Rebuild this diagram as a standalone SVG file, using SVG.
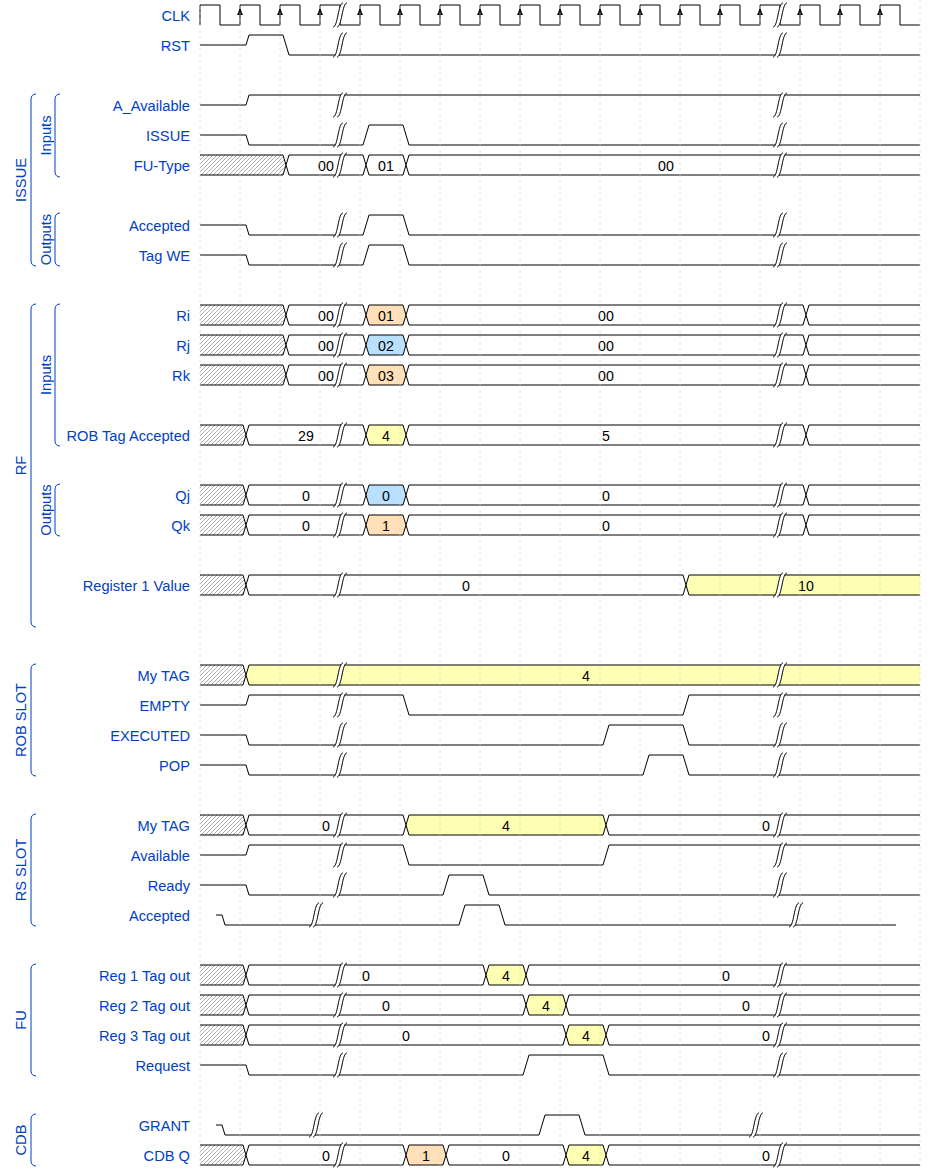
<svg xmlns="http://www.w3.org/2000/svg" xmlns:xlink="http://www.w3.org/1999/xlink" width="940" height="1170" viewBox="0 0 940 1170">
<style>
.w{fill:none;stroke:#000;stroke-width:1}
.d{fill:#fff;stroke:#000;stroke-width:1}
.y{fill:#ffffb4;stroke:#000;stroke-width:1}
.o{fill:#ffe0b9;stroke:#000;stroke-width:1}
.b{fill:#b9e0ff;stroke:#000;stroke-width:1}
.h{fill:url(#hatch);stroke:#000;stroke-width:1}
.n{font-family:"Liberation Sans",Arial,sans-serif;font-size:14.67px;fill:#0041c4;text-anchor:end}
.t{font-family:"Liberation Sans",Arial,sans-serif;font-size:14.2px;fill:#000;text-anchor:middle}
.g{font-family:"Liberation Sans",Arial,sans-serif;font-size:14.67px;fill:#0041c4;text-anchor:middle}
.br{fill:none;stroke:#0041c4;stroke-width:1}
.grid{stroke:#d0d0d0;stroke-width:1;stroke-dasharray:3,3}
</style>
<defs>
<pattern id="hatch" patternUnits="userSpaceOnUse" width="4" height="4">
<rect width="4" height="4" fill="#fff"/>
<path d="M-1,1 L1,-1 M0,4 L4,0 M3,5 L5,3" stroke="#888" stroke-width="0.7"/>
</pattern>
<g id="gap">
<path d="M3,-2 H7 C2,-2 2,22 -3,22 H-7 C-2,22 -2,-2 3,-2 Z" fill="#fff"/>
<path d="M-7,22 C-2,22 -2,-2 3,-2 M-3,22 C2,22 2,-2 7,-2" fill="none" stroke="#000" stroke-width="1"/>
</g>
<path id="arr" d="M0,0 L-3,7 L3,7 Z" fill="#000"/>
</defs>
<rect width="940" height="1170" fill="#fff"/>

<g id="groups">
<g id="grp-issue">
<path class="br" d="M36,94 c-3,0 -5,2 -5,5 V261 c0,3 2,5 5,5"/>
<text class="g" transform="translate(26,180) rotate(-90)">ISSUE</text>
<path class="br" d="M60,94 c-3,0 -5,2 -5,5 V172 c0,3 2,5 5,5"/>
<text class="g" transform="translate(50.5,135.5) rotate(-90)">Inputs</text>
<path class="br" d="M60,213 c-3,0 -5,2 -5,5 V261 c0,3 2,5 5,5"/>
<text class="g" transform="translate(50.5,239.5) rotate(-90)">Outputs</text>
</g>
<g id="grp-rf">
<path class="br" d="M36,304 c-3,0 -5,2 -5,5 V622 c0,3 2,5 5,5"/>
<text class="g" transform="translate(26,465.5) rotate(-90)">RF</text>
<path class="br" d="M60,304 c-3,0 -5,2 -5,5 V441 c0,3 2,5 5,5"/>
<text class="g" transform="translate(50.5,375) rotate(-90)">Inputs</text>
<path class="br" d="M60,484 c-3,0 -5,2 -5,5 V531 c0,3 2,5 5,5"/>
<text class="g" transform="translate(50.5,510) rotate(-90)">Outputs</text>
</g>
<g id="grp-rob">
<path class="br" d="M36,664 c-3,0 -5,2 -5,5 V771 c0,3 2,5 5,5"/>
<text class="g" transform="translate(26,720) rotate(-90)">ROB SLOT</text>
</g>
<g id="grp-rs">
<path class="br" d="M36,814 c-3,0 -5,2 -5,5 V921 c0,3 2,5 5,5"/>
<text class="g" transform="translate(26,870) rotate(-90)">RS SLOT</text>
</g>
<g id="grp-fu">
<path class="br" d="M36,964 c-3,0 -5,2 -5,5 V1071 c0,3 2,5 5,5"/>
<text class="g" transform="translate(26,1020) rotate(-90)">FU</text>
</g>
<g id="grp-cdb">
<path class="br" d="M36,1114 c-3,0 -5,2 -5,5 V1161 c0,3 2,5 5,5"/>
<text class="g" transform="translate(26,1140) rotate(-90)">CDB</text>
</g>
</g>

<g id="sig-clk">
<text class="n" x="190" y="20.5">CLK</text>
<path class="w" d="M200,25 V5 H220 V25 H240 V5 H260 V25 H280 V5 H300 V25 H320 V5 H340 V25 H360 V5 H380 V25 H400 V5 H420 V25 H440 V5 H460 V25 H480 V5 H500 V25 H520 V5 H540 V25 H560 V5 H580 V25 H600 V5 H620 V25 H640 V5 H660 V25 H680 V5 H700 V25 H720 V5 H740 V25 H760 V5 H780 V25 H800 V5 H820 V25 H840 V5 H860 V25 H880 V5 H900 V25 H920"/>
<use xlink:href="#arr" x="240" y="8"/><use xlink:href="#arr" x="280" y="8"/><use xlink:href="#arr" x="320" y="8"/><use xlink:href="#arr" x="360" y="8"/><use xlink:href="#arr" x="400" y="8"/><use xlink:href="#arr" x="440" y="8"/><use xlink:href="#arr" x="480" y="8"/><use xlink:href="#arr" x="520" y="8"/><use xlink:href="#arr" x="560" y="8"/><use xlink:href="#arr" x="600" y="8"/><use xlink:href="#arr" x="640" y="8"/><use xlink:href="#arr" x="680" y="8"/><use xlink:href="#arr" x="720" y="8"/><use xlink:href="#arr" x="760" y="8"/><use xlink:href="#arr" x="800" y="8"/><use xlink:href="#arr" x="840" y="8"/><use xlink:href="#arr" x="880" y="8"/>
</g>
<g id="sig-rst">
<text class="n" x="190" y="50.5">RST</text>
<path class="w" d="M200,45 H246 L249,35 H283 L289,55 H920"/>
</g>

<g id="sig-a-available">
<text class="n" x="190" y="110.5">A_Available</text>
<path class="w" d="M200,105 H246 L249,95 H920"/>
</g>
<g id="sig-issue">
<text class="n" x="190" y="140.5">ISSUE</text>
<path class="w" d="M200,135 H246 L249,145 H363 L369,125 H403 L409,145 H920"/>
</g>
<g id="sig-fu-type">
<text class="n" x="190" y="170.5">FU-Type</text>
<path class="h" d="M200,155 H283 L286,165 L283,175 H200"/>
<path class="d" d="M286,165 L289,155 H363 L366,165 L363,175 H289 Z"/>
<path class="d" d="M366,165 L369,155 H403 L406,165 L403,175 H369 Z"/>
<path class="d" d="M920,155 H409 L406,165 L409,175 H920"/>
<text class="t" x="326" y="170.5">00</text><text class="t" x="386" y="170.5">01</text><text class="t" x="666" y="170.5">00</text>
</g>
<g id="sig-accepted">
<text class="n" x="190" y="230.5">Accepted</text>
<path class="w" d="M200,225 H246 L249,235 H363 L369,215 H403 L409,235 H920"/>
</g>
<g id="sig-tag-we">
<text class="n" x="190" y="260.5">Tag WE</text>
<path class="w" d="M200,255 H246 L249,265 H363 L369,245 H403 L409,265 H920"/>
</g>

<g id="sig-ri">
<text class="n" x="190" y="320.5">Ri</text>
<path class="h" d="M200,305 H283 L286,315 L283,325 H200"/>
<path class="d" d="M286,315 L289,305 H363 L366,315 L363,325 H289 Z"/>
<path class="o" d="M366,315 L369,305 H403 L406,315 L403,325 H369 Z"/>
<path class="d" d="M406,315 L409,305 H803 L806,315 L803,325 H409 Z"/>
<path class="d" d="M920,305 H809 L806,315 L809,325 H920"/>
<text class="t" x="326" y="320.5">00</text><text class="t" x="386" y="320.5">01</text><text class="t" x="606" y="320.5">00</text>
</g>
<g id="sig-rj">
<text class="n" x="190" y="350.5">Rj</text>
<path class="h" d="M200,335 H283 L286,345 L283,355 H200"/>
<path class="d" d="M286,345 L289,335 H363 L366,345 L363,355 H289 Z"/>
<path class="b" d="M366,345 L369,335 H403 L406,345 L403,355 H369 Z"/>
<path class="d" d="M406,345 L409,335 H803 L806,345 L803,355 H409 Z"/>
<path class="d" d="M920,335 H809 L806,345 L809,355 H920"/>
<text class="t" x="326" y="350.5">00</text><text class="t" x="386" y="350.5">02</text><text class="t" x="606" y="350.5">00</text>
</g>
<g id="sig-rk">
<text class="n" x="190" y="380.5">Rk</text>
<path class="h" d="M200,365 H283 L286,375 L283,385 H200"/>
<path class="d" d="M286,375 L289,365 H363 L366,375 L363,385 H289 Z"/>
<path class="o" d="M366,375 L369,365 H403 L406,375 L403,385 H369 Z"/>
<path class="d" d="M406,375 L409,365 H803 L806,375 L803,385 H409 Z"/>
<path class="d" d="M920,365 H809 L806,375 L809,385 H920"/>
<text class="t" x="326" y="380.5">00</text><text class="t" x="386" y="380.5">03</text><text class="t" x="606" y="380.5">00</text>
</g>
<g id="sig-rob-tag-accepted">
<text class="n" x="190" y="440.5">ROB Tag Accepted</text>
<path class="h" d="M200,425 H243 L246,435 L243,445 H200"/>
<path class="d" d="M246,435 L249,425 H363 L366,435 L363,445 H249 Z"/>
<path class="y" d="M366,435 L369,425 H403 L406,435 L403,445 H369 Z"/>
<path class="d" d="M406,435 L409,425 H803 L806,435 L803,445 H409 Z"/>
<path class="d" d="M920,425 H809 L806,435 L809,445 H920"/>
<text class="t" x="306" y="440.5">29</text><text class="t" x="386" y="440.5">4</text><text class="t" x="606" y="440.5">5</text>
</g>
<g id="sig-qj">
<text class="n" x="190" y="500.5">Qj</text>
<path class="h" d="M200,485 H243 L246,495 L243,505 H200"/>
<path class="d" d="M246,495 L249,485 H363 L366,495 L363,505 H249 Z"/>
<path class="b" d="M366,495 L369,485 H403 L406,495 L403,505 H369 Z"/>
<path class="d" d="M406,495 L409,485 H803 L806,495 L803,505 H409 Z"/>
<path class="d" d="M920,485 H809 L806,495 L809,505 H920"/>
<text class="t" x="306" y="500.5">0</text><text class="t" x="386" y="500.5">0</text><text class="t" x="606" y="500.5">0</text>
</g>
<g id="sig-qk">
<text class="n" x="190" y="530.5">Qk</text>
<path class="h" d="M200,515 H243 L246,525 L243,535 H200"/>
<path class="d" d="M246,525 L249,515 H363 L366,525 L363,535 H249 Z"/>
<path class="o" d="M366,525 L369,515 H403 L406,525 L403,535 H369 Z"/>
<path class="d" d="M406,525 L409,515 H803 L806,525 L803,535 H409 Z"/>
<path class="d" d="M920,515 H809 L806,525 L809,535 H920"/>
<text class="t" x="306" y="530.5">0</text><text class="t" x="386" y="530.5">1</text><text class="t" x="606" y="530.5">0</text>
</g>
<g id="sig-register-1-value">
<text class="n" x="190" y="590.5">Register 1 Value</text>
<path class="h" d="M200,575 H243 L246,585 L243,595 H200"/>
<path class="d" d="M246,585 L249,575 H683 L686,585 L683,595 H249 Z"/>
<path class="y" d="M920,575 H689 L686,585 L689,595 H920"/>
<text class="t" x="466" y="590.5">0</text><text class="t" x="806" y="590.5">10</text>
</g>

<g id="sig-rob-my-tag">
<text class="n" x="190" y="680.5">My TAG</text>
<path class="h" d="M200,665 H243 L246,675 L243,685 H200"/>
<path class="y" d="M920,665 H249 L246,675 L249,685 H920"/>
<text class="t" x="586" y="680.5">4</text>
</g>
<g id="sig-empty">
<text class="n" x="190" y="710.5">EMPTY</text>
<path class="w" d="M200,705 H246 L249,695 H403 L409,715 H683 L689,695 H920"/>
</g>
<g id="sig-executed">
<text class="n" x="190" y="740.5">EXECUTED</text>
<path class="w" d="M200,735 H246 L249,745 H603 L609,725 H683 L689,745 H920"/>
</g>
<g id="sig-pop">
<text class="n" x="190" y="770.5">POP</text>
<path class="w" d="M200,765 H246 L249,775 H643 L649,755 H683 L689,775 H920"/>
</g>

<g id="sig-rs-my-tag">
<text class="n" x="190" y="830.5">My TAG</text>
<path class="h" d="M200,815 H243 L246,825 L243,835 H200"/>
<path class="d" d="M246,825 L249,815 H403 L406,825 L403,835 H249 Z"/>
<path class="y" d="M406,825 L409,815 H603 L606,825 L603,835 H409 Z"/>
<path class="d" d="M920,815 H609 L606,825 L609,835 H920"/>
<text class="t" x="326" y="830.5">0</text><text class="t" x="506" y="830.5">4</text><text class="t" x="766" y="830.5">0</text>
</g>
<g id="sig-available">
<text class="n" x="190" y="860.5">Available</text>
<path class="w" d="M200,855 H246 L249,845 H403 L409,865 H603 L609,845 H920"/>
</g>
<g id="sig-ready">
<text class="n" x="190" y="890.5">Ready</text>
<path class="w" d="M200,885 H246 L249,895 H443 L449,875 H483 L489,895 H920"/>
</g>
<g id="sig-rs-accepted">
<text class="n" x="190" y="920.5">Accepted</text>
<path class="w" d="M216,915 H222 L225,925 H459 L465,905 H499 L505,925 H896"/>
</g>

<g id="sig-reg1-tag-out">
<text class="n" x="190" y="980.5">Reg 1 Tag out</text>
<path class="h" d="M200,965 H243 L246,975 L243,985 H200"/>
<path class="d" d="M246,975 L249,965 H483 L486,975 L483,985 H249 Z"/>
<path class="y" d="M486,975 L489,965 H523 L526,975 L523,985 H489 Z"/>
<path class="d" d="M920,965 H529 L526,975 L529,985 H920"/>
<text class="t" x="366" y="980.5">0</text><text class="t" x="506" y="980.5">4</text><text class="t" x="726" y="980.5">0</text>
</g>
<g id="sig-reg2-tag-out">
<text class="n" x="190" y="1010.5">Reg 2 Tag out</text>
<path class="h" d="M200,995 H243 L246,1005 L243,1015 H200"/>
<path class="d" d="M246,1005 L249,995 H523 L526,1005 L523,1015 H249 Z"/>
<path class="y" d="M526,1005 L529,995 H563 L566,1005 L563,1015 H529 Z"/>
<path class="d" d="M920,995 H569 L566,1005 L569,1015 H920"/>
<text class="t" x="386" y="1010.5">0</text><text class="t" x="546" y="1010.5">4</text><text class="t" x="746" y="1010.5">0</text>
</g>
<g id="sig-reg3-tag-out">
<text class="n" x="190" y="1040.5">Reg 3 Tag out</text>
<path class="h" d="M200,1025 H243 L246,1035 L243,1045 H200"/>
<path class="d" d="M246,1035 L249,1025 H563 L566,1035 L563,1045 H249 Z"/>
<path class="y" d="M566,1035 L569,1025 H603 L606,1035 L603,1045 H569 Z"/>
<path class="d" d="M920,1025 H609 L606,1035 L609,1045 H920"/>
<text class="t" x="406" y="1040.5">0</text><text class="t" x="586" y="1040.5">4</text><text class="t" x="766" y="1040.5">0</text>
</g>
<g id="sig-request">
<text class="n" x="190" y="1070.5">Request</text>
<path class="w" d="M200,1065 H246 L249,1075 H523 L529,1055 H603 L609,1075 H920"/>
</g>

<g id="sig-grant">
<text class="n" x="190" y="1130.5">GRANT</text>
<path class="w" d="M216,1125 H222 L225,1135 H539 L545,1115 H579 L585,1135 H920"/>
</g>
<g id="sig-cdb-q">
<text class="n" x="190" y="1160.5">CDB Q</text>
<path class="h" d="M200,1145 H243 L246,1155 L243,1165 H200"/>
<path class="d" d="M246,1155 L249,1145 H403 L406,1155 L403,1165 H249 Z"/>
<path class="o" d="M406,1155 L409,1145 H443 L446,1155 L443,1165 H409 Z"/>
<path class="d" d="M446,1155 L449,1145 H563 L566,1155 L563,1165 H449 Z"/>
<path class="y" d="M566,1155 L569,1145 H603 L606,1155 L603,1165 H569 Z"/>
<path class="d" d="M920,1145 H609 L606,1155 L609,1165 H920"/>
<text class="t" x="326" y="1160.5">0</text><text class="t" x="426" y="1160.5">1</text><text class="t" x="506" y="1160.5">0</text><text class="t" x="586" y="1160.5">4</text><text class="t" x="766" y="1160.5">0</text>
</g>

<g id="grid" opacity="0.6">
<path class="grid" d="M200,0 V1170 M240,0 V1170 M280,0 V1170 M320,0 V1170 M360,0 V1170 M400,0 V1170 M440,0 V1170 M480,0 V1170 M520,0 V1170 M560,0 V1170 M600,0 V1170 M640,0 V1170 M680,0 V1170 M720,0 V1170 M760,0 V1170 M800,0 V1170 M840,0 V1170 M880,0 V1170 M920,0 V1170"/>
</g>

<g id="gaps">
<use xlink:href="#gap" x="340" y="5"/><use xlink:href="#gap" x="780" y="5"/>
<use xlink:href="#gap" x="340" y="35"/><use xlink:href="#gap" x="780" y="35"/>
<use xlink:href="#gap" x="340" y="95"/><use xlink:href="#gap" x="780" y="95"/>
<use xlink:href="#gap" x="340" y="125"/><use xlink:href="#gap" x="780" y="125"/>
<use xlink:href="#gap" x="340" y="155"/><use xlink:href="#gap" x="780" y="155"/>
<use xlink:href="#gap" x="340" y="215"/><use xlink:href="#gap" x="780" y="215"/>
<use xlink:href="#gap" x="340" y="245"/><use xlink:href="#gap" x="780" y="245"/>
<use xlink:href="#gap" x="340" y="305"/><use xlink:href="#gap" x="780" y="305"/>
<use xlink:href="#gap" x="340" y="335"/><use xlink:href="#gap" x="780" y="335"/>
<use xlink:href="#gap" x="340" y="365"/><use xlink:href="#gap" x="780" y="365"/>
<use xlink:href="#gap" x="340" y="425"/><use xlink:href="#gap" x="780" y="425"/>
<use xlink:href="#gap" x="340" y="485"/><use xlink:href="#gap" x="780" y="485"/>
<use xlink:href="#gap" x="340" y="515"/><use xlink:href="#gap" x="780" y="515"/>
<use xlink:href="#gap" x="340" y="575"/><use xlink:href="#gap" x="780" y="575"/>
<use xlink:href="#gap" x="340" y="665"/><use xlink:href="#gap" x="780" y="665"/>
<use xlink:href="#gap" x="340" y="695"/><use xlink:href="#gap" x="780" y="695"/>
<use xlink:href="#gap" x="340" y="725"/><use xlink:href="#gap" x="780" y="725"/>
<use xlink:href="#gap" x="340" y="755"/><use xlink:href="#gap" x="780" y="755"/>
<use xlink:href="#gap" x="340" y="815"/><use xlink:href="#gap" x="780" y="815"/>
<use xlink:href="#gap" x="340" y="845"/><use xlink:href="#gap" x="780" y="845"/>
<use xlink:href="#gap" x="340" y="875"/><use xlink:href="#gap" x="780" y="875"/>
<use xlink:href="#gap" x="316" y="905"/><use xlink:href="#gap" x="796" y="905"/>
<use xlink:href="#gap" x="340" y="965"/><use xlink:href="#gap" x="780" y="965"/>
<use xlink:href="#gap" x="340" y="995"/><use xlink:href="#gap" x="780" y="995"/>
<use xlink:href="#gap" x="340" y="1025"/><use xlink:href="#gap" x="780" y="1025"/>
<use xlink:href="#gap" x="340" y="1055"/><use xlink:href="#gap" x="780" y="1055"/>
<use xlink:href="#gap" x="316" y="1115"/><use xlink:href="#gap" x="756" y="1115"/>
<use xlink:href="#gap" x="340" y="1145"/><use xlink:href="#gap" x="780" y="1145"/>
</g>
</svg>
